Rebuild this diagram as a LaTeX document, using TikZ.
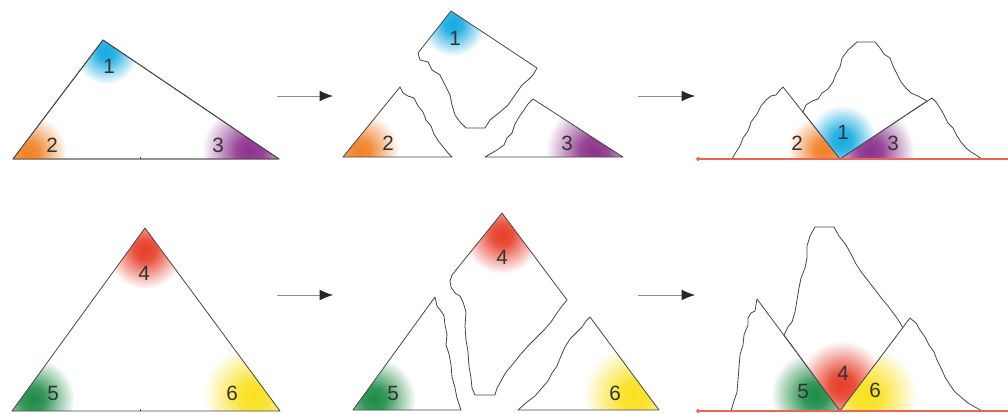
\documentclass[tikz,border=0pt]{standalone}
\usepackage{fontspec}
\newfontfamily\numfont{Liberation Sans}
\usetikzlibrary{arrows.meta,fadings}

\definecolor{cornerA}{RGB}{20,170,225}
\definecolor{cornerB}{RGB}{240,130,40}
\definecolor{cornerC}{RGB}{140,50,140}
\definecolor{cornerD}{RGB}{232,62,42}
\definecolor{cornerE}{RGB}{30,140,70}
\definecolor{cornerF}{RGB}{250,225,30}
\definecolor{groundred}{RGB}{235,100,90}

\pgfdeclareradialshading{spotshade}{\pgfpointorigin}{color(0bp)=(white); color(7bp)=(white!90!black); color(25bp)=(black); color(50bp)=(black)}
\pgfdeclarefading{spotfade}{\pgfuseshading{spotshade}}

\tikzset{
  pieceline/.style={draw=black!72, line width=0.6pt, line join=round},
  piecefill/.style={fill=white},
  num/.style={text=black!80, font=\numfont\fontsize{15.5}{18}\selectfont, inner sep=0pt},
  movearrow/.style={draw=black!45, line width=0.6pt, -{Latex[length=10pt,width=8pt,color=black!85]}},
  groundline/.style={draw=groundred, line width=0.9pt, {Circle[length=3pt]}-},
}

% #1 outline, #2 colour, #3 centre of the spot, #4 radius of the spot
\newcommand{\cutpiece}[4]{%
  \fill[piecefill] #1;
  \begin{scope}
    \clip #1;
    \fill[#2, path fading=spotfade] #3 circle (#4);
  \end{scope}
  \draw[pieceline] #1;}

\begin{document}
\begin{tikzpicture}[x=0.75pt, y=-0.75pt]
\useasboundingbox[fill=white] (0,0) rectangle (1008,414);

% first row
\cutpiece{(103,40) -- (279,159) -- (13,159) -- cycle}{cornerA}{(106,52)}{24pt}
\begin{scope}
  \clip (103,40) -- (279,159) -- (13,159) -- cycle;
  \fill[cornerB, path fading=spotfade] (28,153) circle (29pt);
  \fill[cornerC, path fading=spotfade] (250,151) circle (36pt);
\end{scope}
\draw[pieceline] (103,40) -- (279,159) -- (13,159) -- cycle;
\draw[pieceline] (140,159) -- (140,157);
\node[num] (t1) at (109,66) {1};
\node[num] (t2) at (52,145) {2};
\node[num] (t3) at (218,145) {3};

\coordinate (a1s) at (277,96);
\coordinate (a1e) at (333,96);
\draw[movearrow] (a1s) -- (a1e);

\cutpiece{(451,11) -- (537,68) -- (533,75) -- (528,80) -- (522,85) -- (515,95) -- (508,105) -- (500,112) -- (490,120) -- (485,128) -- (466,128) -- (460,122) -- (455,115) -- (452,105) -- (450,95) -- (445,85) -- (440,75) -- (432,70) -- (428,62) -- (420,60) -- (418,53) -- cycle}{cornerA}{(453,24)}{24pt}
\cutpiece{(343,157) -- (400,87) -- (403,93) -- (408,96) -- (414,98) -- (418,106) -- (423,112) -- (426,120) -- (431,126) -- (434,134) -- (439,142) -- (444,148) -- (448,153) -- (452,157) -- cycle}{cornerB}{(360,151)}{29pt}
\cutpiece{(485,157) -- (497,150) -- (504,145) -- (507,138) -- (512,133) -- (515,124) -- (519,117) -- (524,110) -- (528,104) -- (533,99) -- (623,157) -- cycle}{cornerC}{(594,151)}{36pt}
\node[num] (m1) at (455,38) {1};
\node[num] (m2) at (388,143) {2};
\node[num] (m3) at (567,143) {3};

\coordinate (a2s) at (638,96);
\coordinate (a2e) at (695,96);
\draw[movearrow] (a2s) -- (a2e);

\coordinate (g1s) at (696,159);
\coordinate (g1e) at (1008,159);
\cutpiece{(732,159) -- (736,152) -- (740,146) -- (743,138) -- (748,131) -- (751,122) -- (757,114) -- (761,106) -- (766,100) -- (771,96) -- (776,95) -- (779,91) -- (783,87) -- (840,159) -- cycle}{cornerB}{(824,150)}{27pt}
\cutpiece{(840,159) -- (803,112) -- (806,105) -- (812,101) -- (818,99) -- (822,93) -- (828,89) -- (833,82) -- (836,74) -- (840,67) -- (842,58) -- (848,50) -- (857,42) -- (875,42) -- (880,48) -- (884,54) -- (890,58) -- (893,66) -- (897,74) -- (901,82) -- (906,88) -- (911,93) -- (918,96) -- (927,101) -- cycle}{cornerA}{(842,140)}{26pt}
\cutpiece{(840,159) -- (932,98) -- (936,102) -- (940,108) -- (944,115) -- (948,123) -- (953,128) -- (957,136) -- (961,142) -- (966,148) -- (971,152) -- (976,155) -- (982,159) -- cycle}{cornerC}{(870,151)}{33pt}
\draw[groundline] (g1s) -- (g1e);
\node[num] (r2) at (797,143) {2};
\node[num] (r1) at (843,132) {1};
\node[num] (r3) at (893,143) {3};

% second row
\begin{scope}
  \fill[piecefill] (145,228) -- (280,411) -- (12,411) -- cycle;
  \clip (145,228) -- (280,411) -- (12,411) -- cycle;
  \fill[cornerD, path fading=spotfade] (145,250) circle (29pt);
  \fill[cornerE, path fading=spotfade] (33,399) circle (31pt);
  \fill[cornerF, path fading=spotfade] (254,396) circle (38pt);
\end{scope}
\draw[pieceline] (145,228) -- (280,411) -- (12,411) -- cycle;
\draw[pieceline] (140,411) -- (140,409);
\node[num] (t4) at (144,273) {4};
\node[num] (t5) at (53,393) {5};
\node[num] (t6) at (232,393) {6};

\coordinate (a3s) at (277,295);
\coordinate (a3e) at (333,295);
\draw[movearrow] (a3s) -- (a3e);

\cutpiece{(502,213) -- (567,300) -- (562,306) -- (557,313) -- (551,322) -- (544,330) -- (536,338) -- (528,346) -- (520,355) -- (513,364) -- (506,372) -- (501,381) -- (497,388) -- (495,395) -- (475,395) -- (472,388) -- (471,378) -- (469,366) -- (468,352) -- (466,340) -- (465,326) -- (466,312) -- (463,302) -- (460,296) -- (455,293) -- (451,287) -- (450,281) -- (452,275) -- cycle}{cornerD}{(502,235)}{29pt}
\cutpiece{(353,410) -- (435,297) -- (437,306) -- (441,311) -- (444,316) -- (445,325) -- (447,334) -- (446,345) -- (449,354) -- (451,365) -- (452,377) -- (455,388) -- (457,398) -- (461,410) -- cycle}{cornerE}{(374,399)}{31pt}
\cutpiece{(518,410) -- (527,402) -- (535,396) -- (541,389) -- (548,381) -- (552,373) -- (557,366) -- (561,356) -- (565,347) -- (570,339) -- (576,333) -- (582,327) -- (586,321) -- (590,317) -- (659,410) -- cycle}{cornerF}{(634,396)}{38pt}
\node[num] (m4) at (502,257) {4};
\node[num] (m5) at (393,393) {5};
\node[num] (m6) at (615,393) {6};

\coordinate (a4s) at (638,295);
\coordinate (a4e) at (695,295);
\draw[movearrow] (a4s) -- (a4e);

\coordinate (g2s) at (696,411);
\coordinate (g2e) at (1008,411);
\cutpiece{(731,411) -- (734,401) -- (737,392) -- (738,380) -- (739,367) -- (740,355) -- (743,345) -- (744,335) -- (748,325) -- (748,318) -- (751,313) -- (755,311) -- (757,299) -- (840,411) -- cycle}{cornerE}{(815,395)}{33pt}
\cutpiece{(840,411) -- (784,335) -- (788,327) -- (792,322) -- (795,312) -- (797,300) -- (799,288) -- (801,278) -- (805,268) -- (807,258) -- (807,246) -- (810,236) -- (815,227) -- (834,227) -- (839,236) -- (846,245) -- (851,254) -- (856,264) -- (862,273) -- (869,282) -- (876,291) -- (882,299) -- (888,306) -- (894,314) -- (899,321) -- (903,328) -- cycle}{cornerD}{(842,385)}{33pt}
\cutpiece{(840,411) -- (910,318) -- (916,323) -- (920,330) -- (925,337) -- (929,345) -- (934,352) -- (937,360) -- (941,368) -- (945,377) -- (950,385) -- (955,392) -- (962,398) -- (968,403) -- (975,407) -- (982,411) -- cycle}{cornerF}{(866,396)}{38pt}
\draw[groundline] (g2s) -- (g2e);
\node[num] (r5) at (803,391) {5};
\node[num] (r4) at (843,373) {4};
\node[num] (r6) at (875,390) {6};
\end{tikzpicture}
\end{document}
